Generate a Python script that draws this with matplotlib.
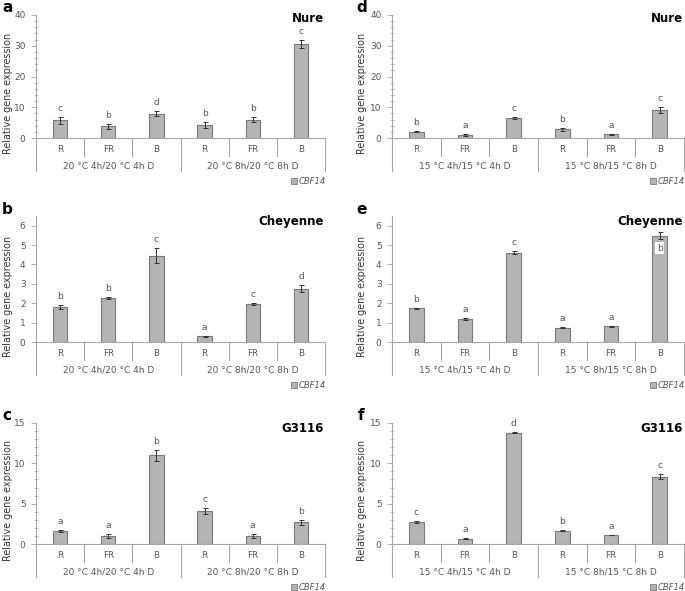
import matplotlib
matplotlib.use("Agg")
import matplotlib.pyplot as plt
import matplotlib.transforms as mtrans
from matplotlib.ticker import MultipleLocator, FixedLocator

plt.rcParams['font.family'] = ['DejaVu Sans']

# ---------------- data ----------------
categories = ["R", "FR", "B", "R", "FR", "B"]
groups_20 = ["20 °C 4h/20 °C 4h D", "20 °C 8h/20 °C 8h D"]
groups_15 = ["15 °C 4h/15 °C 4h D", "15 °C 8h/15 °C 8h D"]
gene = "CBF14"

nure_20 = [5.8, 3.8, 7.9, 4.3, 6.0, 30.6]
nure_20_err = [1.1, 0.8, 0.8, 1.0, 0.9, 1.3]
nure_20_sig = ["c", "b", "d", "b", "b", "c"]

nure_15 = [2.1, 1.0, 6.5, 2.8, 1.2, 9.0]
nure_15_err = [0.3, 0.2, 0.2, 0.4, 0.2, 1.0]
nure_15_sig = ["b", "a", "c", "b", "a", "c"]

chey_20 = [1.82, 2.27, 4.45, 0.29, 1.94, 2.75]
chey_20_err = [0.10, 0.07, 0.40, 0.02, 0.05, 0.17]
chey_20_sig = ["b", "b", "c", "a", "c", "d"]

chey_15 = [1.73, 1.17, 4.60, 0.73, 0.80, 5.48]
chey_15_err = [0.03, 0.05, 0.08, 0.03, 0.03, 0.18]
chey_15_sig = ["b", "a", "c", "a", "a", "b"]

g3116_20 = [1.6, 1.0, 11.0, 4.1, 1.0, 2.7]
g3116_20_err = [0.1, 0.3, 0.7, 0.4, 0.3, 0.3]
g3116_20_sig = ["a", "a", "b", "c", "a", "b"]

g3116_15 = [2.75, 0.65, 13.8, 1.65, 1.1, 8.35]
g3116_15_err = [0.15, 0.05, 0.10, 0.08, 0.03, 0.35]
g3116_15_sig = ["c", "a", "d", "b", "a", "c"]

# ---------------- layout ----------------
W, H = 685, 591
fig = plt.figure(figsize=(W / 100, H / 100), dpi=100)

def fx(x):
    return x / W

def fy(y):
    return 1 - y / H

BAR = "#b4b4b4"
EDGE = "#7a7a7a"
AXC = "#a6a6a6"
TXT = "#555555"

def panel(letter, title, vals, errs, sigs, groups, x0, x1, yzero, ytop, ymax,
          major, minor, lx, ylab_x, inside_idx=None):
    ax = fig.add_axes([fx(x0), fy(yzero), fx(x1) - fx(x0), (yzero - ytop) / H])
    xs = list(range(len(vals)))
    ax.bar(xs, vals, width=0.3, color=BAR, edgecolor=EDGE, linewidth=0.8, zorder=2)
    ax.errorbar(xs, vals, yerr=errs, fmt="none", ecolor="#333333",
                elinewidth=0.7, capsize=1.8, capthick=0.7, zorder=3)
    ax.set_xlim(-0.5, len(vals) - 0.5)
    ax.set_ylim(0, ymax)
    ax.yaxis.set_major_locator(FixedLocator(list(range(0, int(ymax) + 1, int(major)))))
    if minor:
        ax.yaxis.set_minor_locator(MultipleLocator(minor))
    ax.tick_params(axis="y", which="major", direction="out", length=3.5,
                   width=0.6, color=AXC, labelsize=6.5, labelcolor=TXT, pad=4)
    ax.tick_params(axis="y", which="minor", direction="inout", length=2.5,
                   width=0.5, color=AXC)
    ax.set_xticks([])
    for s in ("top", "right"):
        ax.spines[s].set_visible(False)
    for s in ("left", "bottom"):
        ax.spines[s].set_color(AXC)
        ax.spines[s].set_linewidth(0.8)

    # significance letters
    pxunit = (yzero - ytop) / ymax
    for x, v, e, s in zip(xs, vals, errs, sigs):
        if x == inside_idx:
            ax.text(x, v - 0.65, s, ha="center", va="center", fontsize=6.5,
                    color=TXT, zorder=4,
                    bbox=dict(facecolor="white", edgecolor="none", pad=1.2))
        else:
            ax.text(x, v + e + 4 / pxunit, s, ha="center", va="bottom",
                    fontsize=6.5, color=TXT, clip_on=False)

    # multi-level category axis below
    bt = mtrans.blended_transform_factory(ax.transData, fig.transFigure)
    n = len(vals)
    for b in [i + 0.5 for i in range(n - 1)]:
        depth = 33 if b == (n / 2 - 0.5) else 18
        ax.plot([b, b], [fy(yzero), fy(yzero + depth)], transform=bt,
                color=AXC, lw=0.8, clip_on=False)
    for b in (-0.5, n - 0.5):
        ax.plot([b, b], [fy(yzero), fy(yzero + 33)], transform=bt,
                color=AXC, lw=0.8, clip_on=False)
    for x, c in zip(xs, categories):
        ax.text(x, fy(yzero + 11), c, transform=bt, ha="center", va="center",
                fontsize=6.3, color=TXT)
    half = n // 2
    for gi, g in enumerate(groups):
        cx = gi * half + (half - 1) / 2
        ax.text(cx, fy(yzero + 28), g, transform=bt, ha="center", va="center",
                fontsize=6.5, color=TXT)

    # legend
    lg_y = fy(yzero + 43)
    fig.patches.append(plt.Rectangle((fx(x1 - 34), lg_y - 3 / H), 6 / W, 6 / H,
                                     transform=fig.transFigure, facecolor=BAR,
                                     edgecolor=EDGE, linewidth=0.6))
    fig.text(fx(x1 - 26), lg_y, gene, ha="left", va="center", fontsize=6.0,
             style="italic", color=TXT)

    # titles
    fig.text(fx(x1 - 1), fy(ytop + 3 if ymax == 40 else ytop + 5), title,
             ha="right", va="center", fontsize=8.5, fontweight="bold")
    fig.text(fx(lx), fy(ytop - 7), letter, ha="left", va="center",
             fontsize=11, fontweight="bold")
    fig.text(fx(ylab_x), fy((ytop + yzero + 34) / 2), "Relative gene expression",
             rotation=90, ha="center", va="center", fontsize=6.9, color="#333333")
    return ax

L0, L1 = 36, 325
R0, R1 = 392, 684

panel("a", "Nure", nure_20, nure_20_err, nure_20_sig, groups_20,
      L0, L1, 138, 15, 40, 10, 2, 2, 8)
panel("b", "Cheyenne", chey_20, chey_20_err, chey_20_sig, groups_20,
      L0, L1, 342, 216, 6.5, 1, 0, 2, 8)
panel("c", "G3116", g3116_20, g3116_20_err, g3116_20_sig, groups_20,
      L0, L1, 544, 423, 15, 5, 1, 2, 8)
panel("d", "Nure", nure_15, nure_15_err, nure_15_sig, groups_15,
      R0, R1, 138, 15, 40, 10, 2, 356, 362)
panel("e", "Cheyenne", chey_15, chey_15_err, chey_15_sig, groups_15,
      R0, R1, 342, 216, 6.5, 1, 0, 356, 362, inside_idx=5)
panel("f", "G3116", g3116_15, g3116_15_err, g3116_15_sig, groups_15,
      R0, R1, 544, 423, 15, 5, 1, 358, 362)

fig.savefig("out.png", dpi=100)
